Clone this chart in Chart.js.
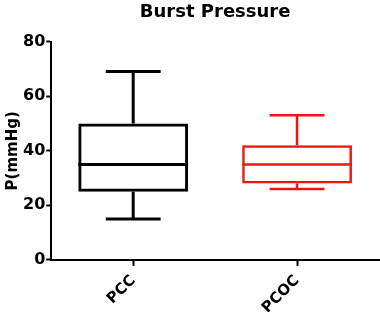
<!DOCTYPE html>
<html>
<head>
<meta charset="utf-8">
<script src="https://cdn.jsdelivr.net/npm/chart.js@4.4.1/dist/chart.umd.min.js"></script>
<style>
  html, body { margin: 0; padding: 0; background: #fff; }
  #wrap { width: 380px; height: 312px; }
</style>
</head>
<body>
<div id="wrap"><canvas id="burst"></canvas></div>
<script>
// box plot values (mmHg)
const categories = ['PCC', 'PCOC'];
const whiskerMin = [15, 26];
const q1 = [25, 28];
const median = [35, 35];
const q3 = [50, 42];
const whiskerMax = [69, 53];
const colors = ['#000000', '#f01414'];
const lineWidths = [3, 2.5];

// whiskers, caps and median drawn through the chart scales
const boxExtras = {
  id: 'boxExtras',
  afterDatasetsDraw(chart) {
    const ctx = chart.ctx;
    const x = chart.scales.x;
    const y = chart.scales.y;
    const meta = chart.getDatasetMeta(0);
    categories.forEach((c, i) => {
      const bar = meta.data[i];
      const cx = x.getPixelForValue(i);
      const half = bar.width / 2;
      const cap = bar.width / 4;
      ctx.save();
      ctx.strokeStyle = colors[i];
      ctx.lineWidth = lineWidths[i];
      ctx.lineCap = 'butt';
      ctx.beginPath();
      // median
      ctx.moveTo(cx - half, y.getPixelForValue(median[i]));
      ctx.lineTo(cx + half, y.getPixelForValue(median[i]));
      // upper whisker + cap
      ctx.moveTo(cx, y.getPixelForValue(q3[i]));
      ctx.lineTo(cx, y.getPixelForValue(whiskerMax[i]));
      ctx.moveTo(cx - cap, y.getPixelForValue(whiskerMax[i]));
      ctx.lineTo(cx + cap, y.getPixelForValue(whiskerMax[i]));
      // lower whisker + cap
      ctx.moveTo(cx, y.getPixelForValue(q1[i]));
      ctx.lineTo(cx, y.getPixelForValue(whiskerMin[i]));
      ctx.moveTo(cx - cap, y.getPixelForValue(whiskerMin[i]));
      ctx.lineTo(cx + cap, y.getPixelForValue(whiskerMin[i]));
      ctx.stroke();
      ctx.restore();
    });
  }
};

const font = { family: '"DejaVu Sans", sans-serif', weight: 'bold' };

new Chart(document.getElementById('burst'), {
  type: 'bar',
  data: {
    labels: categories,
    datasets: [{
      data: categories.map((c, i) => [q1[i], q3[i]]),
      backgroundColor: 'rgba(255,255,255,0)',
      borderColor: colors,
      borderWidth: lineWidths,
      borderSkipped: false,
      barPercentage: 0.67,
      categoryPercentage: 1
    }]
  },
  options: {
    responsive: true,
    maintainAspectRatio: false,
    animation: false,
    layout: { padding: { top: 2, right: 1, left: 4, bottom: -11 } },
    plugins: {
      legend: { display: false },
      tooltip: { enabled: false },
      title: {
        display: true,
        text: 'Burst Pressure',
        fullSize: false,
        color: '#000',
        font: { ...font, size: 18 },
        padding: { top: 0, bottom: 18 }
      }
    },
    scales: {
      x: {
        offset: true,
        grid: { display: true, drawOnChartArea: false, tickLength: 6, tickColor: '#000', tickWidth: 2, offset: false },
        border: { display: true, color: '#000', width: 2 },
        ticks: { color: '#000', font: { ...font, size: 15 }, maxRotation: 45, minRotation: 45, padding: 6 }
      },
      y: {
        min: 0,
        max: 80,
        title: { display: true, text: 'P(mmHg)', color: '#000', font: { ...font, size: 15 }, padding: 0 },
        grid: { display: true, drawOnChartArea: false, tickLength: 5, tickColor: '#000', tickWidth: 2 },
        border: { display: true, color: '#000', width: 2 },
        ticks: { stepSize: 20, color: '#000', font: { ...font, size: 16 }, padding: 1 }
      }
    }
  },
  plugins: [boxExtras]
});
</script>
</body>
</html>
